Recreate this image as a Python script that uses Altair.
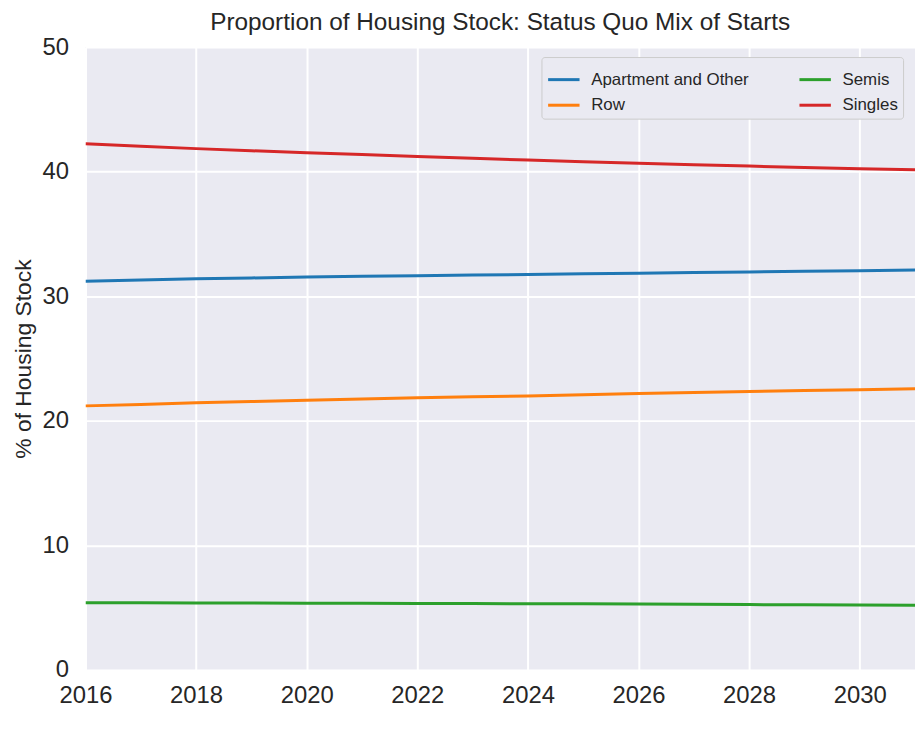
import altair as alt
import pandas as pd

years = list(range(2016, 2032))
apartment = [31.2, 31.3, 31.4, 31.47, 31.55, 31.6, 31.65, 31.7, 31.75, 31.8, 31.85, 31.9, 31.95, 32.0, 32.05, 32.1]
row = [21.2, 21.32, 21.45, 21.55, 21.65, 21.75, 21.85, 21.93, 22.0, 22.1, 22.2, 22.28, 22.35, 22.43, 22.5, 22.58]
semis = [5.4, 5.39, 5.38, 5.37, 5.36, 5.35, 5.34, 5.33, 5.32, 5.31, 5.29, 5.27, 5.25, 5.23, 5.21, 5.2]
singles = [42.25, 42.05, 41.85, 41.68, 41.52, 41.37, 41.22, 41.07, 40.93, 40.8, 40.68, 40.56, 40.45, 40.34, 40.24, 40.15]

series = {
    "Apartment and Other": apartment,
    "Row": row,
    "Semis": semis,
    "Singles": singles,
}
colors = {"Apartment and Other": "#1f77b4", "Row": "#ff7f0e", "Semis": "#2ca02c", "Singles": "#d62728"}
legend_order = ["Apartment and Other", "Row", "Semis", "Singles"]

rows = []
for name, vals in series.items():
    for y, v in zip(years, vals):
        rows.append({"year": y, "value": v, "type": name})
df = pd.DataFrame(rows)

FONT = "Liberation Sans"
TXT = "#262626"

chart = alt.Chart(df).mark_line(strokeWidth=3, clip=True).encode(
    x=alt.X("year:Q", scale=alt.Scale(domain=[2016, 2031], nice=False),
            axis=alt.Axis(values=list(range(2016, 2031, 2)), format="d", title=None,
                          labelFontSize=24, labelPadding=14, labelFlush=False)),
    y=alt.Y("value:Q", scale=alt.Scale(domain=[0, 50], nice=False),
            axis=alt.Axis(values=[0, 10, 20, 30, 40, 50], title="% of Housing Stock",
                          labelFontSize=24, labelPadding=17, titleFontSize=23,
                          titlePadding=7, titleFontWeight="normal")),
    color=alt.Color("type:N",
                    scale=alt.Scale(domain=legend_order, range=[colors[k] for k in legend_order]),
                    legend=alt.Legend(title=None, orient="none", legendX=459, legendY=10,
                                      columns=2, symbolType="stroke", symbolStrokeWidth=3,
                                      symbolSize=1000, labelFontSize=17, labelLimit=400,
                                      columnPadding=44,
                                      rowPadding=0, padding=5, labelOffset=10,
                                      strokeColor="#cccccc",
                                      fillColor="#eaeaf2", cornerRadius=3, labelColor=TXT,
                                      labelFont=FONT)),
).properties(
    width=835, height=627,
    title=alt.Title("Proportion of Housing Stock: Status Quo Mix of Starts",
                    fontSize=24.5, fontWeight="normal", offset=0, color=TXT, font=FONT),
    autosize=alt.AutoSizeParams(type="none"),
    padding={"left": 78, "top": 37, "right": 0, "bottom": 50},
).configure_view(
    fill="#eaeaf2", stroke=None
).configure_axis(
    grid=True, gridColor="white", gridWidth=2, domain=False, ticks=False,
    labelColor=TXT, titleColor=TXT, labelFont=FONT, titleFont=FONT,
)

chart.save("out.html", embed_options={"renderer": "svg", "actions": False})
